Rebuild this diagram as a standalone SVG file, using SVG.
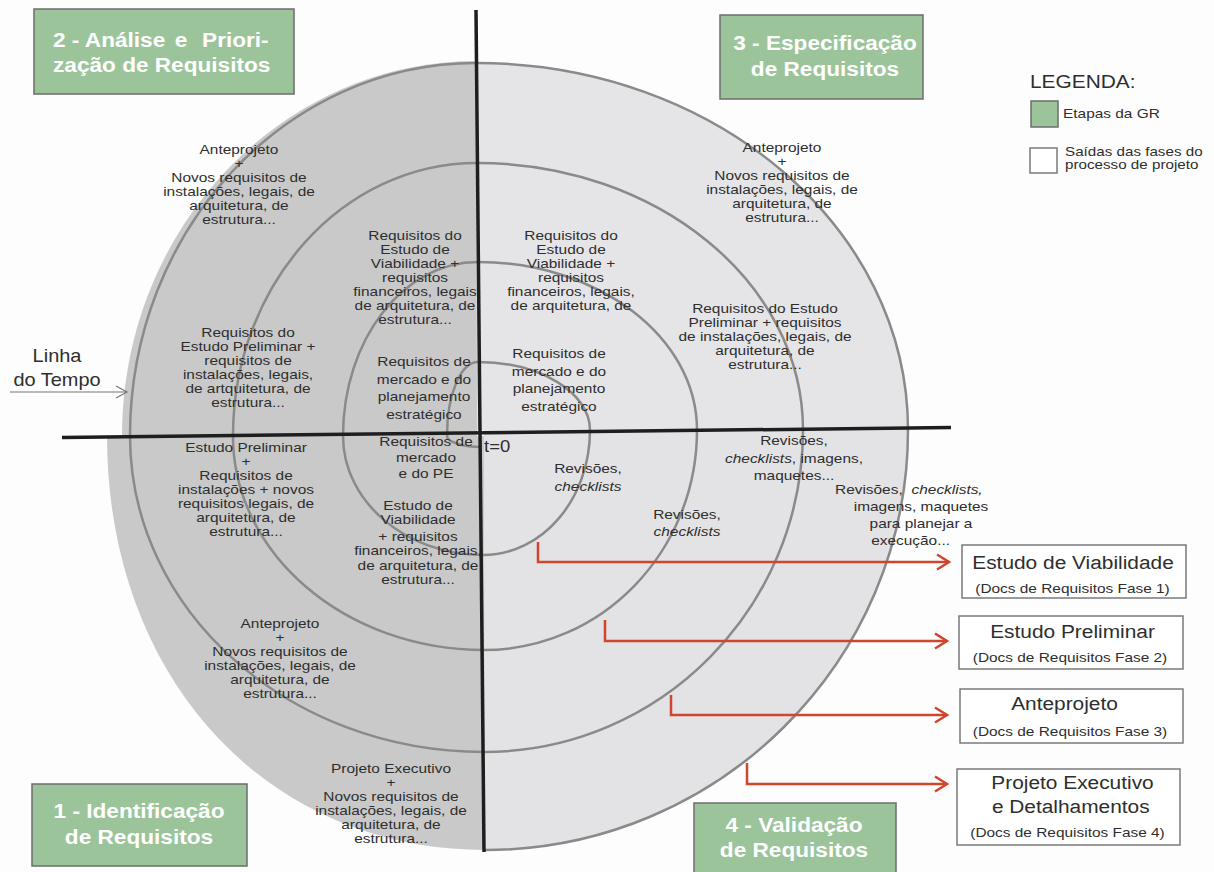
<svg xmlns="http://www.w3.org/2000/svg" width="1214" height="872" viewBox="0 0 1214 872">
  <style>
    .lbl { font-family: "Liberation Sans", Arial, sans-serif; font-size: 13.3px; fill: #2e2e2e; text-anchor: middle; }
    .it { font-style: italic; }
    .ttl { font-family: "Liberation Sans", Arial, sans-serif; font-size: 19.5px; font-weight: bold; fill: #ffffff; }
    .out { font-family: "Liberation Sans", Arial, sans-serif; fill: #2e2e2e; text-anchor: middle; }
    .ring { fill: none; stroke: #8a8a8a; stroke-width: 2.5; }
    .axis { stroke: #1e1e1e; stroke-width: 3.5; fill: none; }
    .step { fill: #9cc49b; stroke: #6c6c6c; stroke-width: 1.5; }
    .box { fill: #ffffff; stroke: #7a7a7a; stroke-width: 1.5; }
    .red { fill: none; stroke: #d0462c; stroke-width: 2.5; }
  </style>
  <defs>
    <marker id="chev" markerUnits="userSpaceOnUse" markerWidth="18" markerHeight="20" refX="14" refY="9" orient="auto">
      <path d="M2,1.5 L14,9 L2,16.5" fill="none" stroke="#d0462c" stroke-width="2.5"/>
    </marker>
    <marker id="chevGray" markerUnits="userSpaceOnUse" markerWidth="16" markerHeight="16" refX="13" refY="7" orient="auto">
      <path d="M2,1 L13,7 L2,13" fill="none" stroke="#777777" stroke-width="1.2"/>
    </marker>
  </defs>

  <rect x="0" y="0" width="1214" height="872" fill="#fdfdfd"/>

  <!-- quadrant fills of the spiral -->
  <g id="spiral-fills">
    <path d="M477,436 L122,436 C122,229 281,61 477,61 Z" fill="#c9c9c9"/>
    <path d="M477,430 L476,63 C715,63 908,227 908,430 Z" fill="#e5e5e7"/>
    <path d="M484,430 L908,430 C908,662 718,850 485,850 Z" fill="#e3e3e5"/>
    <path d="M484,436 L485,850 C265,850 107,676 107,436 Z" fill="#c9c9c9"/>
  </g>

  <!-- spiral line, quarter by quarter -->
  <g id="spiral-rings">
    <path class="ring" d="M481,447 C463.6,447 447,442 447,436
      C447,395 460.4,362 478,362
      C539.4,362 590,392.4 590,430
      C590,499 542.5,555 483,555
      C406.1,555 343,501.7 343,436
      C343,339.9 403,262 478,262
      C598.5,262 697,337.2 697,430
      C697,551.5 601.6,650 484,650
      C345.4,650 233,554.2 233,436
      C233,285.2 342.2,163 477,163
      C657,163 803,282.5 803,430
      C803,607.8 660.2,752 484,752
      C288.5,752 130,610.5 130,436
      C130,230 285.4,63 476,63
      C715,63 908,227.3 908,430
      C908,662 718.2,850 485,850"/>
  </g>

  <!-- time axes -->
  <g id="axes">
    <line class="axis" x1="476" y1="10" x2="484" y2="852"/>
    <line class="axis" x1="62" y1="437.5" x2="951" y2="427.5"/>
  </g>

  <!-- stage boxes -->
  <g id="stage-2">
    <rect class="step" x="34" y="9" width="260" height="85"/>
    <text class="ttl" transform="matrix(1.16 0 0 1 53 0)"><tspan x="0" y="47">2 - Análise</tspan><tspan x="105" y="47">e</tspan><tspan x="128.5" y="47">Priori-</tspan><tspan x="0" y="72">zação de Requisitos</tspan></text>
  </g>
  <g id="stage-3">
    <rect class="step" x="720" y="15" width="203" height="84"/>
    <text class="ttl" text-anchor="middle" transform="matrix(1.16 0 0 1 825 0)"><tspan x="0" y="50.5">3 - Especificação</tspan><tspan x="0" y="76.5">de Requisitos</tspan></text>
  </g>
  <g id="stage-1">
    <rect class="step" x="32" y="784" width="215" height="82"/>
    <text class="ttl" text-anchor="middle" transform="matrix(1.16 0 0 1 139 0)"><tspan x="0" y="818.5">1 - Identificação</tspan><tspan x="0" y="844">de Requisitos</tspan></text>
  </g>
  <g id="stage-4">
    <rect class="step" x="694" y="803" width="202" height="84"/>
    <text class="ttl" text-anchor="middle" transform="matrix(1.16 0 0 1 794 0)"><tspan x="0" y="832">4 - Validação</tspan><tspan x="0" y="857">de Requisitos</tspan></text>
  </g>

  <!-- legend -->
  <g id="legend">
    <text class="out" font-size="18" transform="matrix(1.16 0 0 1 1030 0)" x="0" y="88" style="text-anchor:start">LEGENDA:</text>
    <rect class="step" x="1031" y="101" width="27" height="26"/>
    <text class="lbl" style="text-anchor:start" transform="matrix(1.16 0 0 1 1063 0)" x="0" y="118">Etapas da GR</text>
    <rect class="box" x="1030" y="148" width="27" height="25"/>
    <text class="lbl" style="text-anchor:start;font-size:13px" transform="matrix(1.17 0 0 1 1065 0)"><tspan x="0" y="156.5">Saídas das fases do</tspan><tspan x="0" y="169.5">processo de projeto</tspan></text>
  </g>

  <!-- time line label -->
  <g id="linha-do-tempo">
    <text class="out" font-size="17.5" transform="matrix(1.14 0 0 1 57 0)"><tspan x="0" y="362">Linha</tspan><tspan x="0" y="386">do Tempo</tspan></text>
    <line x1="10" y1="392" x2="127" y2="392" stroke="#777777" stroke-width="1.2" marker-end="url(#chevGray)"/>
  </g>
  <g id="t0">
    <text class="lbl" style="text-anchor:start;font-size:16.5px" transform="matrix(1.12 0 0 1 484 0)" x="0" y="452">t=0</text>
  </g>

  <!-- requirement labels, upper left -->
  <g id="tl-anteprojeto">
    <text class="lbl" transform="matrix(1.16 0 0 1 239 0)"><tspan x="0" y="154">Anteprojeto</tspan><tspan x="0" y="168">+</tspan><tspan x="0" y="182">Novos requisitos de</tspan><tspan x="0" y="196">instalações, legais, de</tspan><tspan x="0" y="210">arquitetura, de</tspan><tspan x="0" y="224">estrutura...</tspan></text>
  </g>
  <g id="tl-viabilidade">
    <text class="lbl" transform="matrix(1.16 0 0 1 415 0)"><tspan x="0" y="240">Requisitos do</tspan><tspan x="0" y="254">Estudo de</tspan><tspan x="0" y="268">Viabilidade +</tspan><tspan x="0" y="282">requisitos</tspan><tspan x="0" y="296">financeiros, legais</tspan><tspan x="0" y="310">de arquitetura, de</tspan><tspan x="0" y="324">estrutura...</tspan></text>
  </g>
  <g id="tl-preliminar">
    <text class="lbl" transform="matrix(1.16 0 0 1 248 0)"><tspan x="0" y="337">Requisitos do</tspan><tspan x="0" y="351">Estudo Preliminar +</tspan><tspan x="0" y="365">requisitos de</tspan><tspan x="0" y="379">instalações, legais,</tspan><tspan x="0" y="393">de artquitetura, de</tspan><tspan x="0" y="407">estrutura...</tspan></text>
  </g>
  <g id="tl-mercado">
    <text class="lbl" transform="matrix(1.16 0 0 1 424 0)"><tspan x="0" y="366">Requisitos de</tspan><tspan x="0" y="384">mercado e do</tspan><tspan x="0" y="401">planejamento</tspan><tspan x="0" y="419">estratégico</tspan></text>
  </g>

  <!-- requirement labels, upper right -->
  <g id="tr-anteprojeto">
    <text class="lbl" transform="matrix(1.16 0 0 1 782 0)"><tspan x="0" y="152.5">Anteprojeto</tspan><tspan x="0" y="166">+</tspan><tspan x="0" y="180">Novos requisitos de</tspan><tspan x="0" y="194">instalações, legais, de</tspan><tspan x="0" y="208">arquitetura, de</tspan><tspan x="0" y="222">estrutura...</tspan></text>
  </g>
  <g id="tr-viabilidade">
    <text class="lbl" transform="matrix(1.16 0 0 1 571 0)"><tspan x="0" y="240">Requisitos do</tspan><tspan x="0" y="254">Estudo de</tspan><tspan x="0" y="268">Viabilidade +</tspan><tspan x="0" y="282">requisitos</tspan><tspan x="0" y="296">financeiros, legais,</tspan><tspan x="0" y="310">de arquitetura, de</tspan></text>
  </g>
  <g id="tr-preliminar">
    <text class="lbl" transform="matrix(1.16 0 0 1 765 0)"><tspan x="0" y="313">Requisitos do Estudo</tspan><tspan x="0" y="327">Preliminar + requisitos</tspan><tspan x="0" y="341.5">de instalações, legais, de</tspan><tspan x="0" y="355.5">arquitetura, de</tspan><tspan x="0" y="369.5">estrutura...</tspan></text>
  </g>
  <g id="tr-mercado">
    <text class="lbl" transform="matrix(1.16 0 0 1 559 0)"><tspan x="0" y="358">Requisitos de</tspan><tspan x="0" y="376">mercado e do</tspan><tspan x="0" y="393">planejamento</tspan><tspan x="0" y="411">estratégico</tspan></text>
  </g>

  <!-- requirement labels, lower left -->
  <g id="bl-preliminar">
    <text class="lbl" transform="matrix(1.16 0 0 1 246 0)"><tspan x="0" y="452">Estudo Preliminar</tspan><tspan x="0" y="466">+</tspan><tspan x="0" y="480">Requisitos de</tspan><tspan x="0" y="494">instalações + novos</tspan><tspan x="0" y="508">requisitos legais, de</tspan><tspan x="0" y="522">arquitetura, de</tspan><tspan x="0" y="536">estrutura...</tspan></text>
  </g>
  <g id="bl-mercado">
    <text class="lbl" transform="matrix(1.16 0 0 1 426 0)"><tspan x="0" y="446">Requisitos de</tspan><tspan x="0" y="462">mercado</tspan><tspan x="0" y="478">e do PE</tspan></text>
  </g>
  <g id="bl-viabilidade">
    <text class="lbl" transform="matrix(1.16 0 0 1 418 0)"><tspan x="0" y="510">Estudo de</tspan><tspan x="0" y="524">Viabilidade</tspan><tspan x="0" y="541">+ requisitos</tspan><tspan x="0" y="555">financeiros, legais,</tspan><tspan x="0" y="570">de arquitetura, de</tspan><tspan x="0" y="584">estrutura...</tspan></text>
  </g>
  <g id="bl-anteprojeto">
    <text class="lbl" transform="matrix(1.16 0 0 1 280 0)"><tspan x="0" y="628">Anteprojeto</tspan><tspan x="0" y="642">+</tspan><tspan x="0" y="656">Novos requisitos de</tspan><tspan x="0" y="670">instalações, legais, de</tspan><tspan x="0" y="684">arquitetura, de</tspan><tspan x="0" y="698">estrutura...</tspan></text>
  </g>
  <g id="bl-executivo">
    <text class="lbl" transform="matrix(1.16 0 0 1 391 0)"><tspan x="0" y="773">Projeto Executivo</tspan><tspan x="0" y="787">+</tspan><tspan x="0" y="801">Novos requisitos de</tspan><tspan x="0" y="815">instalações, legais, de</tspan><tspan x="0" y="829">arquitetura, de</tspan><tspan x="0" y="843">estrutura...</tspan></text>
  </g>

  <!-- review labels, lower right -->
  <g id="br-rev1">
    <text class="lbl" transform="matrix(1.16 0 0 1 588 0)"><tspan x="0" y="473">Revisões,</tspan><tspan x="0" y="491" class="it">checklists</tspan></text>
  </g>
  <g id="br-rev2">
    <text class="lbl" transform="matrix(1.16 0 0 1 687 0)"><tspan x="0" y="519">Revisões,</tspan><tspan x="0" y="536" class="it">checklists</tspan></text>
  </g>
  <g id="br-rev3">
    <text class="lbl" transform="matrix(1.16 0 0 1 794 0)"><tspan x="0" y="445">Revisões,</tspan><tspan x="0" y="463"><tspan class="it">checklists</tspan>, imagens,</tspan><tspan x="0" y="480">maquetes...</tspan></text>
  </g>
  <g id="br-rev4">
    <text class="lbl" style="text-anchor:start" transform="matrix(1.16 0 0 1 835 0)"><tspan x="0" y="494">Revisões,</tspan><tspan x="66" y="494" class="it">checklists,</tspan></text>
    <text class="lbl" transform="matrix(1.16 0 0 1 921 0)"><tspan x="0" y="511">imagens, maquetes</tspan><tspan x="0" y="528">para planejar a</tspan><tspan x="-9" y="545">execução...</tspan></text>
  </g>

  <!-- output documents -->
  <g id="out-viabilidade">
    <rect class="box" x="962" y="545" width="224" height="53"/>
    <text class="out" font-size="18" transform="matrix(1.16 0 0 1 1073 0)" x="0" y="569">Estudo de Viabilidade</text>
    <text class="out" font-size="13.3" transform="matrix(1.16 0 0 1 1072.5 0)" x="0" y="593">(Docs de Requisitos Fase 1)</text>
  </g>
  <g id="out-preliminar">
    <rect class="box" x="959" y="616" width="224" height="53"/>
    <text class="out" font-size="18" transform="matrix(1.16 0 0 1 1072.5 0)" x="0" y="638">Estudo Preliminar</text>
    <text class="out" font-size="13.3" transform="matrix(1.16 0 0 1 1070 0)" x="0" y="662">(Docs de Requisitos Fase 2)</text>
  </g>
  <g id="out-anteprojeto">
    <rect class="box" x="960" y="689" width="223" height="54"/>
    <text class="out" font-size="18" transform="matrix(1.16 0 0 1 1064.5 0)" x="0" y="710">Anteprojeto</text>
    <text class="out" font-size="13.3" transform="matrix(1.16 0 0 1 1070 0)" x="0" y="736">(Docs de Requisitos Fase 3)</text>
  </g>
  <g id="out-executivo">
    <rect class="box" x="957" y="769" width="223" height="76"/>
    <text class="out" font-size="18" transform="matrix(1.16 0 0 1 1072.5 0)"><tspan x="0" y="789">Projeto Executivo</tspan><tspan x="-1.5" y="813">e Detalhamentos</tspan></text>
    <text class="out" font-size="13.3" transform="matrix(1.16 0 0 1 1067.5 0)" x="0" y="837">(Docs de Requisitos Fase 4)</text>
  </g>

  <!-- connectors from the spiral to the output documents -->
  <g id="connectors">
    <path class="red" d="M538,542 V562 H949" marker-end="url(#chev)"/>
    <path class="red" d="M605,620 V641 H947" marker-end="url(#chev)"/>
    <path class="red" d="M671,695 V715 H947" marker-end="url(#chev)"/>
    <path class="red" d="M747,763 V784 H947" marker-end="url(#chev)"/>
  </g>
</svg>
